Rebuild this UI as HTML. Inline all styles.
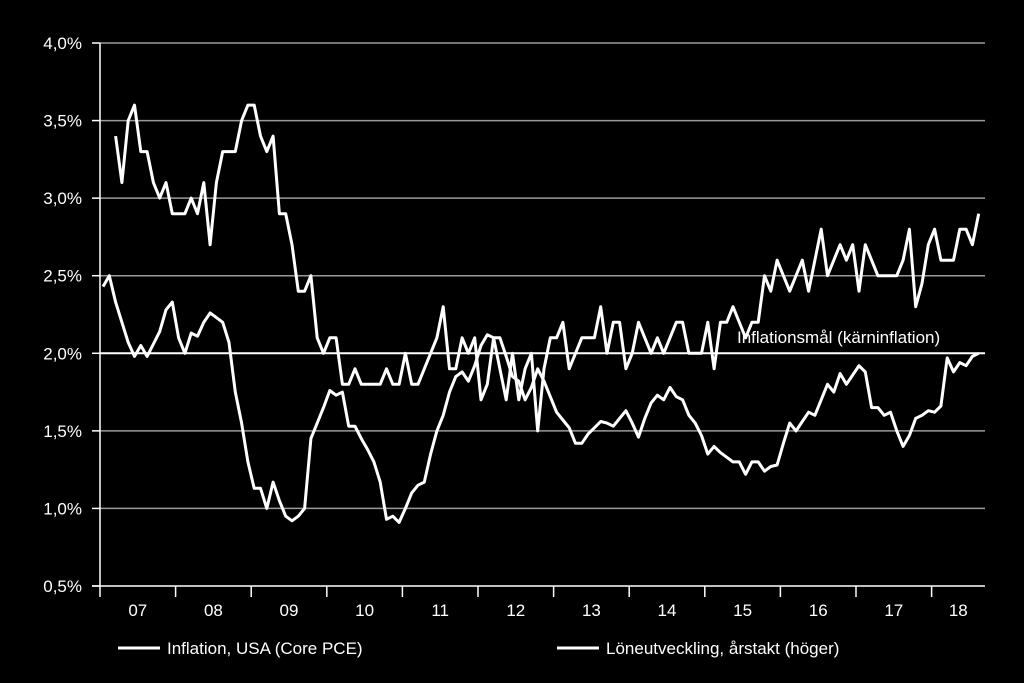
<!DOCTYPE html>
<html><head><meta charset="utf-8"><style>
html,body{margin:0;padding:0;background:#000;}
svg{display:block;font-family:"Liberation Sans",sans-serif;}
</style></head><body>
<svg id="chart" width="1024" height="683" viewBox="0 0 1024 683">
<g id="grid"></g>
<g id="axes"></g>
<g id="series"></g>
<text x="737" y="343" fill="#fff" font-size="17">Inflationsmål (kärninflation)</text>
<g>
<line x1="118" y1="648" x2="160" y2="648" stroke="#fff" stroke-width="3"/>
<text x="167" y="654" fill="#fff" font-size="17">Inflation, USA (Core PCE)</text>
<line x1="557" y1="648" x2="599" y2="648" stroke="#fff" stroke-width="3"/>
<text x="606" y="654" fill="#fff" font-size="17">Löneutveckling, årstakt (höger)</text>
</g>
</svg>
<script>
const yTicks = [0.5,1.0,1.5,2.0,2.5,3.0,3.5,4.0];
const yTickLabels = ["0,5%","1,0%","1,5%","2,0%","2,5%","3,0%","3,5%","4,0%"];
const yearLabels = ["07","08","09","10","11","12","13","14","15","16","17","18"];
const targetValue = 2.0;
const corePce = [2.43,2.5,2.33,2.2,2.07,1.98,2.05,1.98,2.06,2.14,2.28,2.33,2.1,2.0,2.13,2.11,2.2,2.26,2.23,2.2,2.07,1.75,1.55,1.3,1.13,1.13,1.0,1.17,1.05,0.95,0.92,0.95,1.0,1.45,1.55,1.65,1.76,1.73,1.75,1.53,1.53,1.45,1.38,1.3,1.17,0.93,0.95,0.91,1.0,1.1,1.15,1.17,1.35,1.5,1.6,1.75,1.85,1.88,1.82,1.92,2.05,2.12,2.1,2.1,1.98,1.85,1.82,1.7,1.78,1.9,1.82,1.72,1.62,1.57,1.52,1.42,1.42,1.48,1.52,1.56,1.55,1.53,1.58,1.63,1.55,1.46,1.58,1.68,1.73,1.7,1.78,1.72,1.7,1.6,1.55,1.47,1.35,1.4,1.36,1.33,1.3,1.3,1.22,1.3,1.3,1.24,1.27,1.28,1.42,1.55,1.5,1.56,1.62,1.6,1.7,1.8,1.75,1.87,1.8,1.86,1.92,1.88,1.65,1.65,1.6,1.62,1.5,1.4,1.47,1.58,1.6,1.63,1.62,1.66,1.97,1.88,1.94,1.92,1.98,2.0];
const wageStart = 2;
const wages = [3.4,3.1,3.5,3.6,3.3,3.3,3.1,3.0,3.1,2.9,2.9,2.9,3.0,2.9,3.1,2.7,3.1,3.3,3.3,3.3,3.5,3.6,3.6,3.4,3.3,3.4,2.9,2.9,2.7,2.4,2.4,2.5,2.1,2.0,2.1,2.1,1.8,1.8,1.9,1.8,1.8,1.8,1.8,1.9,1.8,1.8,2.0,1.8,1.8,1.9,2.0,2.1,2.3,1.9,1.9,2.1,2.0,2.1,1.7,1.8,2.1,1.9,1.7,2.0,1.7,1.9,2.0,1.5,1.9,2.1,2.1,2.2,1.9,2.0,2.1,2.1,2.1,2.3,2.0,2.2,2.2,1.9,2.0,2.2,2.1,2.0,2.1,2.0,2.1,2.2,2.2,2.0,2.0,2.0,2.2,1.9,2.2,2.2,2.3,2.2,2.1,2.2,2.2,2.5,2.4,2.6,2.5,2.4,2.5,2.6,2.4,2.6,2.8,2.5,2.6,2.7,2.6,2.7,2.4,2.7,2.6,2.5,2.5,2.5,2.5,2.6,2.8,2.3,2.45,2.7,2.8,2.6,2.6,2.6,2.8,2.8,2.7,2.9];

const NS = "http://www.w3.org/2000/svg";
const X0 = 100, X1 = 985, Y_TOP = 43, Y_BOT = 586;
const MONTH_W = 75.6 / 12;
function xMonth(i){ return X0 + 3 + i * MONTH_W; }
function yVal(v){ return Y_BOT - (v - 0.5) / 3.5 * (Y_BOT - Y_TOP); }
function mk(tag, attrs, parent){ const e = document.createElementNS(NS, tag); for (const k in attrs) e.setAttribute(k, attrs[k]); parent.appendChild(e); return e; }

const grid = document.getElementById('grid'), axes = document.getElementById('axes'), series = document.getElementById('series');
yTicks.forEach((t, k) => {
  const y = yVal(t);
  if (t !== 0.5 && t !== targetValue) {
    const g = mk('line', {x1: X0, x2: X1, y1: y, y2: y, stroke: '#9a9a9a', 'stroke-width': 1.5}, grid);
    
    
  }
  const tk = mk('line', {x1: X0 - 8, x2: X0, y1: y, y2: y, stroke: '#fff', 'stroke-width': 1.5}, axes);
  
  
  const lb = mk('text', {x: 82, y: y + 6, fill: '#fff', 'font-size': 17, 'text-anchor': 'end'}, axes);
  lb.textContent = yTickLabels[k];
  
  
});
const tl = mk('line', {x1: X0, x2: X1, y1: yVal(targetValue), y2: yVal(targetValue), stroke: '#fff', 'stroke-width': 2}, grid);



const ya = mk('line', {x1: X0, x2: X0, y1: Y_TOP, y2: Y_BOT, stroke: '#fff', 'stroke-width': 1.5}, axes);


const xa = mk('line', {x1: X0 - 8, x2: X1, y1: Y_BOT, y2: Y_BOT, stroke: '#fff', 'stroke-width': 1.5}, axes);



yearLabels.forEach((lab, k) => {
  const xs = X0 + k * 75.6;
  const xe = Math.min(X0 + (k + 1) * 75.6, X1);
  const t = mk('line', {x1: xs, x2: xs, y1: Y_BOT, y2: Y_BOT + 11, stroke: '#fff', 'stroke-width': 1.5}, axes);
  
  
  const l = mk('text', {x: (xs + xe) / 2, y: 616, fill: '#fff', 'font-size': 17, 'text-anchor': 'middle'}, axes);
  l.textContent = lab;
  
  
});

function pathFor(vals, start){ return vals.map((v, i) => (i ? 'L' : 'M') + xMonth(i + start).toFixed(1) + ' ' + yVal(v).toFixed(1)).join(' '); }
const p1 = mk('path', {d: pathFor(corePce, 0), fill: 'none', stroke: '#fff', 'stroke-width': 3, 'stroke-linejoin': 'round'}, series);


const p2 = mk('path', {d: pathFor(wages, wageStart), fill: 'none', stroke: '#fff', 'stroke-width': 3, 'stroke-linejoin': 'round'}, series);


</script>
</body></html>
